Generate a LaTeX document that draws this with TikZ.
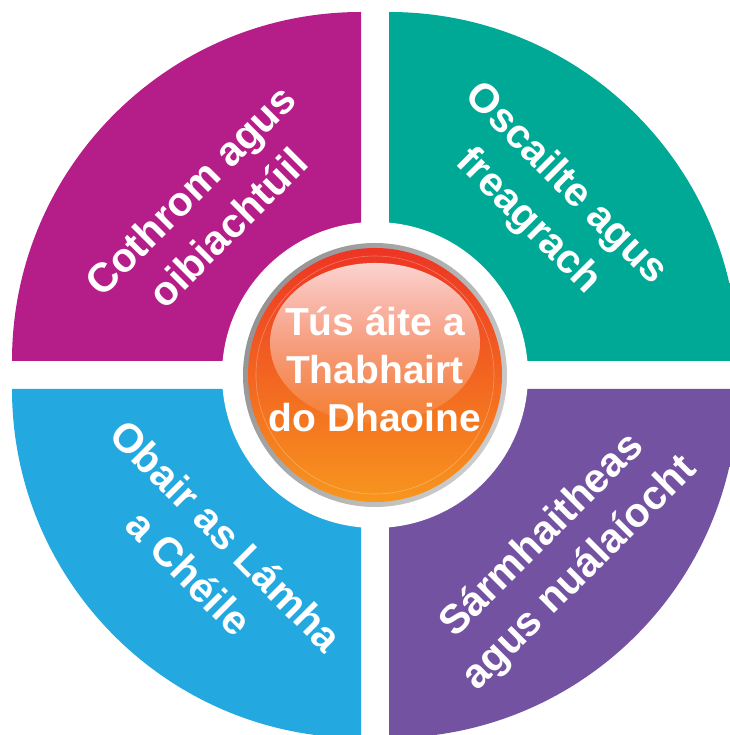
\documentclass[tikz,border=0pt]{standalone}
\usepackage{fontspec}
\setmainfont{Liberation Sans}
\usetikzlibrary{fadings}

\definecolor{cothrom}{RGB}{181,30,136}
\definecolor{oscailte}{RGB}{0,168,150}
\definecolor{obair}{RGB}{36,168,224}
\definecolor{sarmh}{RGB}{116,82,162}
\definecolor{hubtop}{RGB}{238,52,36}
\definecolor{hubmid}{RGB}{228,90,46}
\definecolor{hubbot}{RGB}{247,150,30}
\colorlet{qcol}{cothrom}
\pgfdeclareradialshading[qcol]{rim}{\pgfpoint{0bp}{0bp}}{color(0bp)=(qcol); color(45bp)=(qcol); color(50bp)=(qcol!78!black)}
\tikzfading[name=glossfade, top color=transparent!8, bottom color=transparent!92]

\begin{document}
\begin{tikzpicture}[x=1pt,y=1pt,
    quadtext/.style={text=white, font=\fontsize{41}{53}\selectfont\bfseries, align=center},
    hubtext/.style={text=white, font=\fontsize{39}{48}\selectfont\bfseries, align=center}]
  \useasboundingbox (-375,-360) rectangle (354,375);
  \foreach \qc/\cx/\cy/\sa in {cothrom/-14/14/90, oscailte/14/14/0, obair/-14/-14/180, sarmh/14/-14/270}{
    \colorlet{qcol}{\qc}
    \begin{scope}
      \clip (\cx,\cy) -- ++(\sa:349) arc[start angle=\sa, delta angle=90, radius=349] -- cycle;
      \shade[shading=rim] (\cx,\cy) circle (349);
    \end{scope}
  }
  \fill[white] (0,0) circle (153);
  \shade[left color=black!42, right color=black!20, shading angle=60] (0,0) circle (132);
  \shade[top color=hubtop, middle color=hubmid, bottom color=hubbot] (0,0) circle (127);
  \draw[white, opacity=0.3, line width=0.6] (0,0) circle (119);
  \fill[white, fill opacity=0.85, path fading=glossfade] (0,32) ellipse [x radius=105, y radius=80];
  \node[hubtext] (hub) at (0,6) {Tús áite a\\Thabhairt\\do Dhaoine};
  \node[quadtext, rotate=45] (cothromtxt) at (135:235) {Cothrom agus\\oibiachtúil};
  \node[quadtext, rotate=-45] (oscailtetxt) at (45:243) {Oscailte agus\\freagrach};
  \node[quadtext, rotate=-45] (obairtxt) at (227:245) {Obair as Lámha\\a Chéile};
  \node[quadtext, rotate=45] (sarmhtxt) at (316:259) {Sármhaitheas\\agus nuálaíocht};
\end{tikzpicture}
\end{document}
